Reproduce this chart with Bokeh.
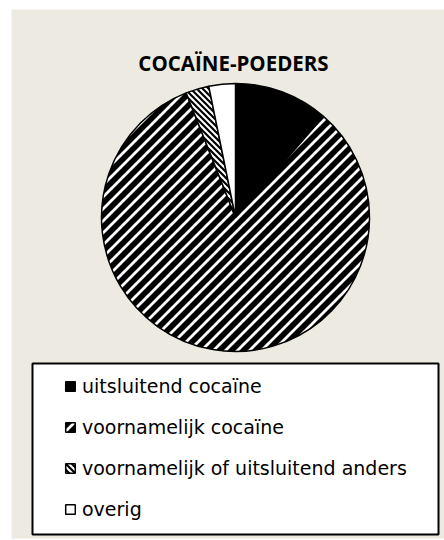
import base64
import numpy as np
from bokeh.plotting import figure
from bokeh.models import Range1d, Legend, LegendItem, BoxAnnotation, Label, ImageURLTexture
from bokeh.core.properties import value
from bokeh.embed import file_html
from bokeh.resources import INLINE

# ---- data ----
title_text = "COCAÏNE-POEDERS"
categories = ["uitsluitend cocaïne", "voornamelijk cocaïne",
              "voornamelijk of uitsluitend anders", "overig"]
shares = [11.4, 82.6, 2.8, 3.2]   # percent, clockwise from 12 o'clock

# ---- textures (45 degree stripes) ----
def stripe_svg(size, bg, fg, width, forward=True):
    s = size
    if forward:
        d = f"M{-s},{s} L{s},{-s} M{-s},{2*s} L{2*s},{-s} M0,{2*s} L{2*s},0"
    else:
        d = f"M{-s},0 L{s},{2*s} M{-s},{-s} L{2*s},{2*s} M0,{-s} L{2*s},{s}"
    svg = (f"<svg xmlns='http://www.w3.org/2000/svg' width='{s}' height='{s}'>"
           f"<rect width='{s}' height='{s}' fill='{bg}'/>"
           f"<path d='{d}' stroke='{fg}' stroke-width='{width}' fill='none'/></svg>")
    return "data:image/svg+xml;base64," + base64.b64encode(svg.encode()).decode()

textures = {"fwd": ImageURLTexture(url=stripe_svg(12, "black", "white", 2.8, True)),
            "bwd": ImageURLTexture(url=stripe_svg(6, "white", "black", 2.2, False))}

# ---- styles ----
fills = ["black", "black", "white", "white"]
hatches = [" ", "fwd", "bwd", " "]
BG = "#ECEAE1"

W, H = 444, 540
ML, MT, MR, MB = 11, 9, 0, 2
FW, FH = W - ML - MR, H - MT - MB

p = figure(width=W, height=H, output_backend="svg", toolbar_location=None,
           x_range=Range1d(0, FW), y_range=Range1d(0, FH),
           x_axis_location=None, y_axis_location=None,
           min_border_left=ML, min_border_top=MT, min_border_right=MR, min_border_bottom=MB,
           background_fill_color=BG, border_fill_color="white", outline_line_color=None)
p.xgrid.grid_line_color = None
p.ygrid.grid_line_color = None

cx, cy, R = 224, FH - 208, 134
frac = np.array(shares, dtype=float) / np.sum(shares)
cum = np.concatenate([[0.0], np.cumsum(frac)])
starts = np.pi / 2 - 2 * np.pi * cum[:-1]
ends = np.pi / 2 - 2 * np.pi * cum[1:]

renderers = []
for i, cat in enumerate(categories):
    r = p.wedge(x=cx, y=cy, radius=R, start_angle=starts[i], end_angle=ends[i],
                direction="clock", fill_color=fills[i], hatch_pattern=value(hatches[i]),
                hatch_extra=textures, hatch_color="black",
                line_color="black", line_width=1.5)
    renderers.append(r)

# legend box
box = BoxAnnotation(left=21, right=427, top=FH - 354, bottom=FH - 525,
                    fill_color="white", fill_alpha=1.0, line_color="black", line_width=2,
                    line_alpha=1.0)
p.add_layout(box)

legend = Legend(items=[LegendItem(label=c, renderers=[r]) for c, r in zip(categories, renderers)],
                location=(53, 17), padding=0, margin=0, border_line_color=None,
                background_fill_alpha=0, glyph_width=12, glyph_height=12,
                label_standoff=6, spacing=17, label_height=24,
                label_text_font="DejaVu Sans", label_text_font_size="19px",
                label_text_color="black")
p.add_layout(legend, "center")

title = Label(x=222, y=FH - 53, text=title_text, text_align="center",
              text_baseline="alphabetic", text_font="Open Sans", text_font_style="bold",
              text_font_size="20.5px", text_color="black")
p.add_layout(title)

open("out.html", "w").write(file_html(p, INLINE))
